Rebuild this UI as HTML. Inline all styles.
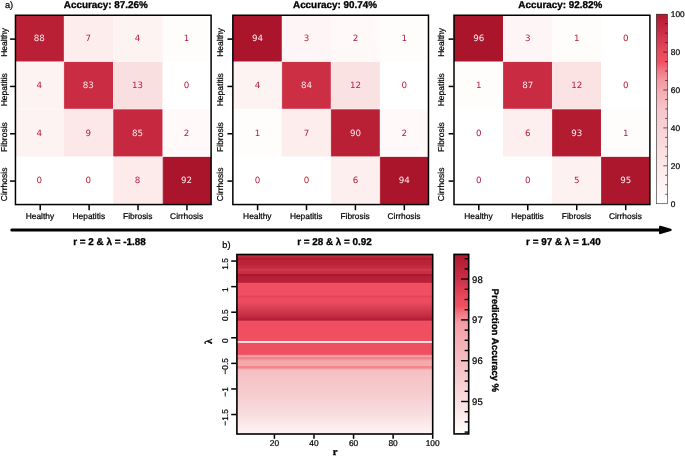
<!DOCTYPE html>
<html lang="en"><head><meta charset="utf-8"><title>Figure</title>
<style>html,body{margin:0;padding:0;background:#fff}svg{display:block;will-change:transform}text{text-rendering:geometricPrecision;stroke:#000;stroke-width:.22px}text.n{stroke:none}text.b{stroke-width:.3px}</style></head>
<body>
<svg width="685" height="458" viewBox="0 0 685 458">
<rect width="685" height="458" fill="#fff"/>
<defs><linearGradient id="hm" gradientUnits="userSpaceOnUse" x1="0" y1="254.5" x2="0" y2="434"><stop offset="0.0000" stop-color="#c42840"/><stop offset="0.0156" stop-color="#c42840"/><stop offset="0.0184" stop-color="#b01a32"/><stop offset="0.0284" stop-color="#b01a32"/><stop offset="0.0318" stop-color="#bb2238"/><stop offset="0.0585" stop-color="#bb2238"/><stop offset="0.0618" stop-color="#c42a40"/><stop offset="0.0808" stop-color="#c62c42"/><stop offset="0.0836" stop-color="#d33b52"/><stop offset="0.0875" stop-color="#d33b52"/><stop offset="0.0903" stop-color="#c83045"/><stop offset="0.1058" stop-color="#c62e44"/><stop offset="0.1086" stop-color="#aa1830"/><stop offset="0.1209" stop-color="#ac1a32"/><stop offset="0.1242" stop-color="#b82038"/><stop offset="0.1554" stop-color="#b82038"/><stop offset="0.1582" stop-color="#ef4f60"/><stop offset="0.2267" stop-color="#ef4f60"/><stop offset="0.2312" stop-color="#e24659"/><stop offset="0.2379" stop-color="#e24659"/><stop offset="0.2435" stop-color="#ee4e5f"/><stop offset="0.2674" stop-color="#ec4c5e"/><stop offset="0.2802" stop-color="#e24659"/><stop offset="0.2981" stop-color="#d84054"/><stop offset="0.3148" stop-color="#cf384d"/><stop offset="0.3370" stop-color="#c52e44"/><stop offset="0.3510" stop-color="#bd2840"/><stop offset="0.3571" stop-color="#b52038"/><stop offset="0.3660" stop-color="#b52038"/><stop offset="0.3710" stop-color="#ef4f60"/><stop offset="0.4802" stop-color="#ef4f60"/><stop offset="0.4836" stop-color="#fbe6e8"/><stop offset="0.4897" stop-color="#fdf0f1"/><stop offset="0.4936" stop-color="#ef4f60"/><stop offset="0.5549" stop-color="#ef4f60"/><stop offset="0.5616" stop-color="#f37e88"/><stop offset="0.5643" stop-color="#f5a5a6"/><stop offset="0.5699" stop-color="#f5a5a6"/><stop offset="0.5727" stop-color="#f28089"/><stop offset="0.5788" stop-color="#f28089"/><stop offset="0.5905" stop-color="#f2a4a5"/><stop offset="0.5961" stop-color="#f2aaaa"/><stop offset="0.6189" stop-color="#f2aaaa"/><stop offset="0.6228" stop-color="#f4858c"/><stop offset="0.6306" stop-color="#f4858c"/><stop offset="0.6379" stop-color="#f4a8ac"/><stop offset="0.6462" stop-color="#f5c0c2"/><stop offset="0.7827" stop-color="#f6cdcf"/><stop offset="0.8942" stop-color="#f9dedf"/><stop offset="1.0000" stop-color="#fef5f5"/></linearGradient><linearGradient id="cbb" gradientUnits="userSpaceOnUse" x1="0" y1="254.4" x2="0" y2="433.9"><stop offset="0.0000" stop-color="#b0182e"/><stop offset="0.1370" stop-color="#c93048"/><stop offset="0.2373" stop-color="#e84a5c"/><stop offset="0.2875" stop-color="#f05062"/><stop offset="0.3320" stop-color="#f27a88"/><stop offset="0.3877" stop-color="#f39ea6"/><stop offset="0.4880" stop-color="#f4b0b5"/><stop offset="0.6997" stop-color="#f7ccd0"/><stop offset="0.8669" stop-color="#fbe6e8"/><stop offset="1.0000" stop-color="#ffffff"/></linearGradient><linearGradient id="cba" gradientUnits="userSpaceOnUse" x1="0" y1="14.2" x2="0" y2="203.7"><stop offset="0.0000" stop-color="#b0182e"/><stop offset="0.0992" stop-color="#cc3048"/><stop offset="0.1995" stop-color="#e84a5c"/><stop offset="0.2522" stop-color="#f05062"/><stop offset="0.2997" stop-color="#f27888"/><stop offset="0.3525" stop-color="#f39aa2"/><stop offset="0.4000" stop-color="#f4aab0"/><stop offset="0.5003" stop-color="#f6c6ca"/><stop offset="0.6005" stop-color="#f8d2d5"/><stop offset="0.8011" stop-color="#fce8e9"/><stop offset="1.0000" stop-color="#ffffff"/></linearGradient></defs>
<rect x="15.45" y="15.25" width="48.48" height="46.6" fill="#b92035"/>
<rect x="63.93" y="15.25" width="49.22" height="46.6" fill="#fdeded"/>
<rect x="113.15" y="15.25" width="49.55" height="46.6" fill="#fef3f3"/>
<rect x="162.7" y="15.25" width="48.4" height="46.6" fill="#fffcfc"/>
<rect x="15.45" y="61.85" width="48.48" height="47.35" fill="#fef3f3"/>
<rect x="63.93" y="61.85" width="49.22" height="47.35" fill="#ca2c43"/>
<rect x="113.15" y="61.85" width="49.55" height="47.35" fill="#fadfe0"/>
<rect x="162.7" y="61.85" width="48.4" height="47.35" fill="#ffffff"/>
<rect x="15.45" y="109.2" width="48.48" height="47.6" fill="#fef3f3"/>
<rect x="63.93" y="109.2" width="49.22" height="47.6" fill="#fce8e8"/>
<rect x="113.15" y="109.2" width="49.55" height="47.6" fill="#c5283f"/>
<rect x="162.7" y="109.2" width="48.4" height="47.6" fill="#fff9f9"/>
<rect x="15.45" y="156.8" width="48.48" height="47.75" fill="#ffffff"/>
<rect x="63.93" y="156.8" width="49.22" height="47.75" fill="#ffffff"/>
<rect x="113.15" y="156.8" width="49.55" height="47.75" fill="#fdebeb"/>
<rect x="162.7" y="156.8" width="48.4" height="47.75" fill="#ab152b"/>
<line x1="15.45" y1="61.55" x2="211.1" y2="61.55" stroke="#fff" stroke-opacity="0.65" stroke-width="0.55"/>
<line x1="64.23" y1="15.25" x2="64.23" y2="204.55" stroke="#fff" stroke-opacity="0.3" stroke-width="0.5"/>
<line x1="15.45" y1="108.9" x2="211.1" y2="108.9" stroke="#fff" stroke-opacity="0.65" stroke-width="0.55"/>
<line x1="113.45" y1="15.25" x2="113.45" y2="204.55" stroke="#fff" stroke-opacity="0.3" stroke-width="0.5"/>
<line x1="15.45" y1="156.5" x2="211.1" y2="156.5" stroke="#fff" stroke-opacity="0.65" stroke-width="0.55"/>
<line x1="163" y1="15.25" x2="163" y2="204.55" stroke="#fff" stroke-opacity="0.3" stroke-width="0.5"/>
<text x="39.39" y="41.15" font-family='"DejaVu Sans", "Liberation Sans", sans-serif' font-size="8.7" fill="#fbe9eb" class="n" text-anchor="middle">88</text>
<text x="88.24" y="41.15" font-family='"DejaVu Sans", "Liberation Sans", sans-serif' font-size="8.7" fill="#b5203a" class="n" text-anchor="middle">7</text>
<text x="137.62" y="41.15" font-family='"DejaVu Sans", "Liberation Sans", sans-serif' font-size="8.7" fill="#b5203a" class="n" text-anchor="middle">4</text>
<text x="186.6" y="41.15" font-family='"DejaVu Sans", "Liberation Sans", sans-serif' font-size="8.7" fill="#b5203a" class="n" text-anchor="middle">1</text>
<text x="39.39" y="88.12" font-family='"DejaVu Sans", "Liberation Sans", sans-serif' font-size="8.7" fill="#b5203a" class="n" text-anchor="middle">4</text>
<text x="88.24" y="88.12" font-family='"DejaVu Sans", "Liberation Sans", sans-serif' font-size="8.7" fill="#fbe9eb" class="n" text-anchor="middle">83</text>
<text x="137.62" y="88.12" font-family='"DejaVu Sans", "Liberation Sans", sans-serif' font-size="8.7" fill="#b5203a" class="n" text-anchor="middle">13</text>
<text x="186.6" y="88.12" font-family='"DejaVu Sans", "Liberation Sans", sans-serif' font-size="8.7" fill="#b5203a" class="n" text-anchor="middle">0</text>
<text x="39.39" y="135.6" font-family='"DejaVu Sans", "Liberation Sans", sans-serif' font-size="8.7" fill="#b5203a" class="n" text-anchor="middle">4</text>
<text x="88.24" y="135.6" font-family='"DejaVu Sans", "Liberation Sans", sans-serif' font-size="8.7" fill="#b5203a" class="n" text-anchor="middle">9</text>
<text x="137.62" y="135.6" font-family='"DejaVu Sans", "Liberation Sans", sans-serif' font-size="8.7" fill="#fbe9eb" class="n" text-anchor="middle">85</text>
<text x="186.6" y="135.6" font-family='"DejaVu Sans", "Liberation Sans", sans-serif' font-size="8.7" fill="#b5203a" class="n" text-anchor="middle">2</text>
<text x="39.39" y="183.28" font-family='"DejaVu Sans", "Liberation Sans", sans-serif' font-size="8.7" fill="#b5203a" class="n" text-anchor="middle">0</text>
<text x="88.24" y="183.28" font-family='"DejaVu Sans", "Liberation Sans", sans-serif' font-size="8.7" fill="#b5203a" class="n" text-anchor="middle">0</text>
<text x="137.62" y="183.28" font-family='"DejaVu Sans", "Liberation Sans", sans-serif' font-size="8.7" fill="#b5203a" class="n" text-anchor="middle">8</text>
<text x="186.6" y="183.28" font-family='"DejaVu Sans", "Liberation Sans", sans-serif' font-size="8.7" fill="#fbe9eb" class="n" text-anchor="middle">92</text>
<rect x="15.45" y="15.25" width="195.65" height="189.3" fill="none" stroke="#000" stroke-width="1.5"/>
<line x1="10.05" y1="39.11" x2="14.95" y2="39.11" stroke="#000" stroke-width="1.5"/>
<text transform="translate(7.15 42.41) rotate(-90)" font-family='"Liberation Sans", Arial, Helvetica, sans-serif' font-size="8.5" text-anchor="middle">Healthy</text>
<line x1="40.21" y1="205.05" x2="40.21" y2="210.25" stroke="#000" stroke-width="1.5"/>
<text x="39.91" y="219.0" font-family='"Liberation Sans", Arial, Helvetica, sans-serif' font-size="8.4" text-anchor="middle">Healthy</text>
<line x1="10.05" y1="86.44" x2="14.95" y2="86.44" stroke="#000" stroke-width="1.5"/>
<text transform="translate(7.15 89.74) rotate(-90)" font-family='"Liberation Sans", Arial, Helvetica, sans-serif' font-size="8.5" text-anchor="middle">Hepatitis</text>
<line x1="89.12" y1="205.05" x2="89.12" y2="210.25" stroke="#000" stroke-width="1.5"/>
<text x="88.82" y="219.0" font-family='"Liberation Sans", Arial, Helvetica, sans-serif' font-size="8.4" text-anchor="middle">Hepatitis</text>
<line x1="10.05" y1="133.76" x2="14.95" y2="133.76" stroke="#000" stroke-width="1.5"/>
<text transform="translate(7.15 137.06) rotate(-90)" font-family='"Liberation Sans", Arial, Helvetica, sans-serif' font-size="8.5" text-anchor="middle">Fibrosis</text>
<line x1="138.03" y1="205.05" x2="138.03" y2="210.25" stroke="#000" stroke-width="1.5"/>
<text x="137.73" y="219.0" font-family='"Liberation Sans", Arial, Helvetica, sans-serif' font-size="8.4" text-anchor="middle">Fibrosis</text>
<line x1="10.05" y1="181.09" x2="14.95" y2="181.09" stroke="#000" stroke-width="1.5"/>
<text transform="translate(7.15 184.39) rotate(-90)" font-family='"Liberation Sans", Arial, Helvetica, sans-serif' font-size="8.5" text-anchor="middle">Cirrhosis</text>
<line x1="186.94" y1="205.05" x2="186.94" y2="210.25" stroke="#000" stroke-width="1.5"/>
<text x="186.64" y="219.0" font-family='"Liberation Sans", Arial, Helvetica, sans-serif' font-size="8.4" text-anchor="middle">Cirrhosis</text>
<text x="105.8" y="8.3" font-family='"Liberation Sans", Arial, Helvetica, sans-serif' font-size="9.9" font-weight="bold" class="b" text-anchor="middle">Accuracy: 87.26%</text>
<text x="109.45" y="244.8" font-family='"Liberation Sans", Arial, Helvetica, sans-serif' font-size="9.9" font-weight="bold" class="b" text-anchor="middle">r = 2 &amp; λ = -1.88</text>
<rect x="232.85" y="15.25" width="49.05" height="46.6" fill="#ab152b"/>
<rect x="281.9" y="15.25" width="49" height="46.6" fill="#fef6f6"/>
<rect x="330.9" y="15.25" width="49" height="46.6" fill="#fff9f9"/>
<rect x="379.9" y="15.25" width="48.57" height="46.6" fill="#fffcfc"/>
<rect x="232.85" y="61.85" width="49.05" height="47.35" fill="#fef3f3"/>
<rect x="281.9" y="61.85" width="49" height="47.35" fill="#cc2e44"/>
<rect x="330.9" y="61.85" width="49" height="47.35" fill="#fbe2e2"/>
<rect x="379.9" y="61.85" width="48.57" height="47.35" fill="#ffffff"/>
<rect x="232.85" y="109.2" width="49.05" height="47.6" fill="#fffcfc"/>
<rect x="281.9" y="109.2" width="49" height="47.6" fill="#fdeded"/>
<rect x="330.9" y="109.2" width="49" height="47.6" fill="#b92035"/>
<rect x="379.9" y="109.2" width="48.57" height="47.6" fill="#fff9f9"/>
<rect x="232.85" y="156.8" width="49.05" height="47.75" fill="#ffffff"/>
<rect x="281.9" y="156.8" width="49" height="47.75" fill="#ffffff"/>
<rect x="330.9" y="156.8" width="49" height="47.75" fill="#fdefef"/>
<rect x="379.9" y="156.8" width="48.57" height="47.75" fill="#ab152b"/>
<line x1="232.85" y1="61.55" x2="428.47" y2="61.55" stroke="#fff" stroke-opacity="0.65" stroke-width="0.55"/>
<line x1="282.2" y1="15.25" x2="282.2" y2="204.55" stroke="#fff" stroke-opacity="0.3" stroke-width="0.5"/>
<line x1="232.85" y1="108.9" x2="428.47" y2="108.9" stroke="#fff" stroke-opacity="0.65" stroke-width="0.55"/>
<line x1="331.2" y1="15.25" x2="331.2" y2="204.55" stroke="#fff" stroke-opacity="0.3" stroke-width="0.5"/>
<line x1="232.85" y1="156.5" x2="428.47" y2="156.5" stroke="#fff" stroke-opacity="0.65" stroke-width="0.55"/>
<line x1="380.2" y1="15.25" x2="380.2" y2="204.55" stroke="#fff" stroke-opacity="0.3" stroke-width="0.5"/>
<text x="257.48" y="41.15" font-family='"DejaVu Sans", "Liberation Sans", sans-serif' font-size="8.7" fill="#fbe9eb" class="n" text-anchor="middle">94</text>
<text x="306.5" y="41.15" font-family='"DejaVu Sans", "Liberation Sans", sans-serif' font-size="8.7" fill="#b5203a" class="n" text-anchor="middle">3</text>
<text x="355.5" y="41.15" font-family='"DejaVu Sans", "Liberation Sans", sans-serif' font-size="8.7" fill="#b5203a" class="n" text-anchor="middle">2</text>
<text x="404.29" y="41.15" font-family='"DejaVu Sans", "Liberation Sans", sans-serif' font-size="8.7" fill="#b5203a" class="n" text-anchor="middle">1</text>
<text x="257.48" y="88.12" font-family='"DejaVu Sans", "Liberation Sans", sans-serif' font-size="8.7" fill="#b5203a" class="n" text-anchor="middle">4</text>
<text x="306.5" y="88.12" font-family='"DejaVu Sans", "Liberation Sans", sans-serif' font-size="8.7" fill="#fbe9eb" class="n" text-anchor="middle">84</text>
<text x="355.5" y="88.12" font-family='"DejaVu Sans", "Liberation Sans", sans-serif' font-size="8.7" fill="#b5203a" class="n" text-anchor="middle">12</text>
<text x="404.29" y="88.12" font-family='"DejaVu Sans", "Liberation Sans", sans-serif' font-size="8.7" fill="#b5203a" class="n" text-anchor="middle">0</text>
<text x="257.48" y="135.6" font-family='"DejaVu Sans", "Liberation Sans", sans-serif' font-size="8.7" fill="#b5203a" class="n" text-anchor="middle">1</text>
<text x="306.5" y="135.6" font-family='"DejaVu Sans", "Liberation Sans", sans-serif' font-size="8.7" fill="#b5203a" class="n" text-anchor="middle">7</text>
<text x="355.5" y="135.6" font-family='"DejaVu Sans", "Liberation Sans", sans-serif' font-size="8.7" fill="#fbe9eb" class="n" text-anchor="middle">90</text>
<text x="404.29" y="135.6" font-family='"DejaVu Sans", "Liberation Sans", sans-serif' font-size="8.7" fill="#b5203a" class="n" text-anchor="middle">2</text>
<text x="257.48" y="183.28" font-family='"DejaVu Sans", "Liberation Sans", sans-serif' font-size="8.7" fill="#b5203a" class="n" text-anchor="middle">0</text>
<text x="306.5" y="183.28" font-family='"DejaVu Sans", "Liberation Sans", sans-serif' font-size="8.7" fill="#b5203a" class="n" text-anchor="middle">0</text>
<text x="355.5" y="183.28" font-family='"DejaVu Sans", "Liberation Sans", sans-serif' font-size="8.7" fill="#b5203a" class="n" text-anchor="middle">6</text>
<text x="404.29" y="183.28" font-family='"DejaVu Sans", "Liberation Sans", sans-serif' font-size="8.7" fill="#fbe9eb" class="n" text-anchor="middle">94</text>
<rect x="232.85" y="15.25" width="195.62" height="189.3" fill="none" stroke="#000" stroke-width="1.5"/>
<line x1="227.45" y1="39.11" x2="232.35" y2="39.11" stroke="#000" stroke-width="1.5"/>
<text transform="translate(223.05 42.41) rotate(-90)" font-family='"Liberation Sans", Arial, Helvetica, sans-serif' font-size="8.5" text-anchor="middle">Healthy</text>
<line x1="257.6" y1="205.05" x2="257.6" y2="210.25" stroke="#000" stroke-width="1.5"/>
<text x="257.3" y="219.0" font-family='"Liberation Sans", Arial, Helvetica, sans-serif' font-size="8.4" text-anchor="middle">Healthy</text>
<line x1="227.45" y1="86.44" x2="232.35" y2="86.44" stroke="#000" stroke-width="1.5"/>
<text transform="translate(223.05 89.74) rotate(-90)" font-family='"Liberation Sans", Arial, Helvetica, sans-serif' font-size="8.5" text-anchor="middle">Hepatitis</text>
<line x1="306.51" y1="205.05" x2="306.51" y2="210.25" stroke="#000" stroke-width="1.5"/>
<text x="306.21" y="219.0" font-family='"Liberation Sans", Arial, Helvetica, sans-serif' font-size="8.4" text-anchor="middle">Hepatitis</text>
<line x1="227.45" y1="133.76" x2="232.35" y2="133.76" stroke="#000" stroke-width="1.5"/>
<text transform="translate(223.05 137.06) rotate(-90)" font-family='"Liberation Sans", Arial, Helvetica, sans-serif' font-size="8.5" text-anchor="middle">Fibrosis</text>
<line x1="355.41" y1="205.05" x2="355.41" y2="210.25" stroke="#000" stroke-width="1.5"/>
<text x="355.11" y="219.0" font-family='"Liberation Sans", Arial, Helvetica, sans-serif' font-size="8.4" text-anchor="middle">Fibrosis</text>
<line x1="227.45" y1="181.09" x2="232.35" y2="181.09" stroke="#000" stroke-width="1.5"/>
<text transform="translate(223.05 184.39) rotate(-90)" font-family='"Liberation Sans", Arial, Helvetica, sans-serif' font-size="8.5" text-anchor="middle">Cirrhosis</text>
<line x1="404.32" y1="205.05" x2="404.32" y2="210.25" stroke="#000" stroke-width="1.5"/>
<text x="404.02" y="219.0" font-family='"Liberation Sans", Arial, Helvetica, sans-serif' font-size="8.4" text-anchor="middle">Cirrhosis</text>
<text x="335" y="8.3" font-family='"Liberation Sans", Arial, Helvetica, sans-serif' font-size="9.9" font-weight="bold" class="b" text-anchor="middle">Accuracy: 90.74%</text>
<text x="334.5" y="244.8" font-family='"Liberation Sans", Arial, Helvetica, sans-serif' font-size="9.9" font-weight="bold" class="b" text-anchor="middle">r = 28 &amp; λ = 0.92</text>
<rect x="454" y="15.25" width="49" height="46.6" fill="#ab152b"/>
<rect x="503" y="15.25" width="49" height="46.6" fill="#fef6f6"/>
<rect x="552" y="15.25" width="49" height="46.6" fill="#fffcfc"/>
<rect x="601" y="15.25" width="48.9" height="46.6" fill="#ffffff"/>
<rect x="454" y="61.85" width="49" height="47.35" fill="#fffcfc"/>
<rect x="503" y="61.85" width="49" height="47.35" fill="#c92c42"/>
<rect x="552" y="61.85" width="49" height="47.35" fill="#fbe2e3"/>
<rect x="601" y="61.85" width="48.9" height="47.35" fill="#ffffff"/>
<rect x="454" y="109.2" width="49" height="47.6" fill="#ffffff"/>
<rect x="503" y="109.2" width="49" height="47.6" fill="#fdefef"/>
<rect x="552" y="109.2" width="49" height="47.6" fill="#b21b30"/>
<rect x="601" y="109.2" width="48.9" height="47.6" fill="#fffcfc"/>
<rect x="454" y="156.8" width="49" height="47.75" fill="#ffffff"/>
<rect x="503" y="156.8" width="49" height="47.75" fill="#ffffff"/>
<rect x="552" y="156.8" width="49" height="47.75" fill="#fef1f1"/>
<rect x="601" y="156.8" width="48.9" height="47.75" fill="#ad172d"/>
<line x1="454" y1="61.55" x2="649.9" y2="61.55" stroke="#fff" stroke-opacity="0.65" stroke-width="0.55"/>
<line x1="503.3" y1="15.25" x2="503.3" y2="204.55" stroke="#fff" stroke-opacity="0.3" stroke-width="0.5"/>
<line x1="454" y1="108.9" x2="649.9" y2="108.9" stroke="#fff" stroke-opacity="0.65" stroke-width="0.55"/>
<line x1="552.3" y1="15.25" x2="552.3" y2="204.55" stroke="#fff" stroke-opacity="0.3" stroke-width="0.5"/>
<line x1="454" y1="156.5" x2="649.9" y2="156.5" stroke="#fff" stroke-opacity="0.65" stroke-width="0.55"/>
<line x1="601.3" y1="15.25" x2="601.3" y2="204.55" stroke="#fff" stroke-opacity="0.3" stroke-width="0.5"/>
<text x="478.8" y="41.15" font-family='"DejaVu Sans", "Liberation Sans", sans-serif' font-size="8.7" fill="#fbe9eb" class="n" text-anchor="middle">96</text>
<text x="527.8" y="41.15" font-family='"DejaVu Sans", "Liberation Sans", sans-serif' font-size="8.7" fill="#b5203a" class="n" text-anchor="middle">3</text>
<text x="576.8" y="41.15" font-family='"DejaVu Sans", "Liberation Sans", sans-serif' font-size="8.7" fill="#b5203a" class="n" text-anchor="middle">1</text>
<text x="625.75" y="41.15" font-family='"DejaVu Sans", "Liberation Sans", sans-serif' font-size="8.7" fill="#b5203a" class="n" text-anchor="middle">0</text>
<text x="478.8" y="88.12" font-family='"DejaVu Sans", "Liberation Sans", sans-serif' font-size="8.7" fill="#b5203a" class="n" text-anchor="middle">1</text>
<text x="527.8" y="88.12" font-family='"DejaVu Sans", "Liberation Sans", sans-serif' font-size="8.7" fill="#fbe9eb" class="n" text-anchor="middle">87</text>
<text x="576.8" y="88.12" font-family='"DejaVu Sans", "Liberation Sans", sans-serif' font-size="8.7" fill="#b5203a" class="n" text-anchor="middle">12</text>
<text x="625.75" y="88.12" font-family='"DejaVu Sans", "Liberation Sans", sans-serif' font-size="8.7" fill="#b5203a" class="n" text-anchor="middle">0</text>
<text x="478.8" y="135.6" font-family='"DejaVu Sans", "Liberation Sans", sans-serif' font-size="8.7" fill="#b5203a" class="n" text-anchor="middle">0</text>
<text x="527.8" y="135.6" font-family='"DejaVu Sans", "Liberation Sans", sans-serif' font-size="8.7" fill="#b5203a" class="n" text-anchor="middle">6</text>
<text x="576.8" y="135.6" font-family='"DejaVu Sans", "Liberation Sans", sans-serif' font-size="8.7" fill="#fbe9eb" class="n" text-anchor="middle">93</text>
<text x="625.75" y="135.6" font-family='"DejaVu Sans", "Liberation Sans", sans-serif' font-size="8.7" fill="#b5203a" class="n" text-anchor="middle">1</text>
<text x="478.8" y="183.28" font-family='"DejaVu Sans", "Liberation Sans", sans-serif' font-size="8.7" fill="#b5203a" class="n" text-anchor="middle">0</text>
<text x="527.8" y="183.28" font-family='"DejaVu Sans", "Liberation Sans", sans-serif' font-size="8.7" fill="#b5203a" class="n" text-anchor="middle">0</text>
<text x="576.8" y="183.28" font-family='"DejaVu Sans", "Liberation Sans", sans-serif' font-size="8.7" fill="#b5203a" class="n" text-anchor="middle">5</text>
<text x="625.75" y="183.28" font-family='"DejaVu Sans", "Liberation Sans", sans-serif' font-size="8.7" fill="#fbe9eb" class="n" text-anchor="middle">95</text>
<rect x="454" y="15.25" width="195.9" height="189.3" fill="none" stroke="#000" stroke-width="1.5"/>
<line x1="448.6" y1="39.11" x2="453.5" y2="39.11" stroke="#000" stroke-width="1.5"/>
<text transform="translate(443.9 42.41) rotate(-90)" font-family='"Liberation Sans", Arial, Helvetica, sans-serif' font-size="8.5" text-anchor="middle">Healthy</text>
<line x1="478.79" y1="205.05" x2="478.79" y2="210.25" stroke="#000" stroke-width="1.5"/>
<text x="478.49" y="219.0" font-family='"Liberation Sans", Arial, Helvetica, sans-serif' font-size="8.4" text-anchor="middle">Healthy</text>
<line x1="448.6" y1="86.44" x2="453.5" y2="86.44" stroke="#000" stroke-width="1.5"/>
<text transform="translate(443.9 89.74) rotate(-90)" font-family='"Liberation Sans", Arial, Helvetica, sans-serif' font-size="8.5" text-anchor="middle">Hepatitis</text>
<line x1="527.76" y1="205.05" x2="527.76" y2="210.25" stroke="#000" stroke-width="1.5"/>
<text x="527.46" y="219.0" font-family='"Liberation Sans", Arial, Helvetica, sans-serif' font-size="8.4" text-anchor="middle">Hepatitis</text>
<line x1="448.6" y1="133.76" x2="453.5" y2="133.76" stroke="#000" stroke-width="1.5"/>
<text transform="translate(443.9 137.06) rotate(-90)" font-family='"Liberation Sans", Arial, Helvetica, sans-serif' font-size="8.5" text-anchor="middle">Fibrosis</text>
<line x1="576.74" y1="205.05" x2="576.74" y2="210.25" stroke="#000" stroke-width="1.5"/>
<text x="576.44" y="219.0" font-family='"Liberation Sans", Arial, Helvetica, sans-serif' font-size="8.4" text-anchor="middle">Fibrosis</text>
<line x1="448.6" y1="181.09" x2="453.5" y2="181.09" stroke="#000" stroke-width="1.5"/>
<text transform="translate(443.9 184.39) rotate(-90)" font-family='"Liberation Sans", Arial, Helvetica, sans-serif' font-size="8.5" text-anchor="middle">Cirrhosis</text>
<line x1="625.71" y1="205.05" x2="625.71" y2="210.25" stroke="#000" stroke-width="1.5"/>
<text x="625.41" y="219.0" font-family='"Liberation Sans", Arial, Helvetica, sans-serif' font-size="8.4" text-anchor="middle">Cirrhosis</text>
<text x="560.3" y="8.3" font-family='"Liberation Sans", Arial, Helvetica, sans-serif' font-size="9.9" font-weight="bold" class="b" text-anchor="middle">Accuracy: 92.82%</text>
<text x="563.4" y="244.8" font-family='"Liberation Sans", Arial, Helvetica, sans-serif' font-size="9.9" font-weight="bold" class="b" text-anchor="middle">r = 97 &amp; λ = 1.40</text>
<text x="5" y="8.3" font-family='"Liberation Sans", Arial, Helvetica, sans-serif' font-size="9.2">a)</text>
<text x="222.3" y="247.7" font-family='"Liberation Sans", Arial, Helvetica, sans-serif' font-size="9.2">b)</text>
<rect x="656.4" y="14.2" width="11.05" height="189.5" fill="url(#cba)" stroke="#000" stroke-opacity="0.78" stroke-width="0.65"/>
<text x="670.8" y="206.8" font-family='"Liberation Sans", Arial, Helvetica, sans-serif' font-size="8.3">0</text>
<line x1="665.2" y1="194.22" x2="667.3" y2="194.22" stroke="#000" stroke-opacity="0.85" stroke-width="0.7"/>
<line x1="665.2" y1="184.75" x2="667.3" y2="184.75" stroke="#000" stroke-opacity="0.85" stroke-width="0.7"/>
<line x1="665.2" y1="175.27" x2="667.3" y2="175.27" stroke="#000" stroke-opacity="0.85" stroke-width="0.7"/>
<line x1="663.3" y1="165.8" x2="667.3" y2="165.8" stroke="#000" stroke-opacity="0.85" stroke-width="0.7"/>
<text x="670.8" y="168.9" font-family='"Liberation Sans", Arial, Helvetica, sans-serif' font-size="8.3">20</text>
<line x1="665.2" y1="156.32" x2="667.3" y2="156.32" stroke="#000" stroke-opacity="0.85" stroke-width="0.7"/>
<line x1="665.2" y1="146.85" x2="667.3" y2="146.85" stroke="#000" stroke-opacity="0.85" stroke-width="0.7"/>
<line x1="665.2" y1="137.38" x2="667.3" y2="137.38" stroke="#000" stroke-opacity="0.85" stroke-width="0.7"/>
<line x1="663.3" y1="127.9" x2="667.3" y2="127.9" stroke="#000" stroke-opacity="0.85" stroke-width="0.7"/>
<text x="670.8" y="131" font-family='"Liberation Sans", Arial, Helvetica, sans-serif' font-size="8.3">40</text>
<line x1="665.2" y1="118.42" x2="667.3" y2="118.42" stroke="#000" stroke-opacity="0.85" stroke-width="0.7"/>
<line x1="665.2" y1="108.95" x2="667.3" y2="108.95" stroke="#000" stroke-opacity="0.85" stroke-width="0.7"/>
<line x1="665.2" y1="99.47" x2="667.3" y2="99.47" stroke="#000" stroke-opacity="0.85" stroke-width="0.7"/>
<line x1="663.3" y1="90" x2="667.3" y2="90" stroke="#000" stroke-opacity="0.85" stroke-width="0.7"/>
<text x="670.8" y="93.1" font-family='"Liberation Sans", Arial, Helvetica, sans-serif' font-size="8.3">60</text>
<line x1="665.2" y1="80.52" x2="667.3" y2="80.52" stroke="#000" stroke-opacity="0.85" stroke-width="0.7"/>
<line x1="665.2" y1="71.05" x2="667.3" y2="71.05" stroke="#000" stroke-opacity="0.85" stroke-width="0.7"/>
<line x1="665.2" y1="61.57" x2="667.3" y2="61.57" stroke="#000" stroke-opacity="0.85" stroke-width="0.7"/>
<line x1="663.3" y1="52.1" x2="667.3" y2="52.1" stroke="#000" stroke-opacity="0.85" stroke-width="0.7"/>
<text x="670.8" y="55.2" font-family='"Liberation Sans", Arial, Helvetica, sans-serif' font-size="8.3">80</text>
<line x1="665.2" y1="42.62" x2="667.3" y2="42.62" stroke="#000" stroke-opacity="0.85" stroke-width="0.7"/>
<line x1="665.2" y1="33.15" x2="667.3" y2="33.15" stroke="#000" stroke-opacity="0.85" stroke-width="0.7"/>
<line x1="665.2" y1="23.67" x2="667.3" y2="23.67" stroke="#000" stroke-opacity="0.85" stroke-width="0.7"/>
<text x="670.8" y="17.3" font-family='"Liberation Sans", Arial, Helvetica, sans-serif' font-size="8.3">100</text>
<line x1="11.8" y1="229.9" x2="661" y2="229.9" stroke="#000" stroke-width="3" stroke-linecap="round"/>
<path d="M660.2 227.0 L670.5 229.95 L660.2 232.9 Z" fill="#000" stroke="#000" stroke-width="2.4" stroke-linejoin="round"/>
<rect x="236.9" y="254.5" width="195.8" height="179.5" fill="url(#hm)"/>
<rect x="236.9" y="254.5" width="195.8" height="179.5" fill="none" stroke="#000" stroke-width="1.6"/>
<line x1="231.2" y1="261.05" x2="236.2" y2="261.05" stroke="#000" stroke-width="1.5"/>
<text transform="translate(228.1 264) rotate(-90)" font-family='"Liberation Sans", Arial, Helvetica, sans-serif' font-size="8.4" text-anchor="middle">1.5</text>
<line x1="231.2" y1="286.63" x2="236.2" y2="286.63" stroke="#000" stroke-width="1.5"/>
<text transform="translate(228.1 289.58) rotate(-90)" font-family='"Liberation Sans", Arial, Helvetica, sans-serif' font-size="8.4" text-anchor="middle">1</text>
<line x1="231.2" y1="312.21" x2="236.2" y2="312.21" stroke="#000" stroke-width="1.5"/>
<text transform="translate(228.1 315.16) rotate(-90)" font-family='"Liberation Sans", Arial, Helvetica, sans-serif' font-size="8.4" text-anchor="middle">0.5</text>
<line x1="231.2" y1="337.79" x2="236.2" y2="337.79" stroke="#000" stroke-width="1.5"/>
<text transform="translate(228.1 340.74) rotate(-90)" font-family='"Liberation Sans", Arial, Helvetica, sans-serif' font-size="8.4" text-anchor="middle">0</text>
<line x1="231.2" y1="363.37" x2="236.2" y2="363.37" stroke="#000" stroke-width="1.5"/>
<text transform="translate(228.1 366.32) rotate(-90)" font-family='"Liberation Sans", Arial, Helvetica, sans-serif' font-size="8.4" text-anchor="middle">−0.5</text>
<line x1="231.2" y1="388.95" x2="236.2" y2="388.95" stroke="#000" stroke-width="1.5"/>
<text transform="translate(228.1 391.9) rotate(-90)" font-family='"Liberation Sans", Arial, Helvetica, sans-serif' font-size="8.4" text-anchor="middle">−1</text>
<line x1="231.2" y1="414.53" x2="236.2" y2="414.53" stroke="#000" stroke-width="1.5"/>
<text transform="translate(228.1 417.48) rotate(-90)" font-family='"Liberation Sans", Arial, Helvetica, sans-serif' font-size="8.4" text-anchor="middle">−1.5</text>
<line x1="274.4" y1="434.6" x2="274.4" y2="438.8" stroke="#000" stroke-width="1.5"/>
<text x="274.4" y="446.1" font-family='"Liberation Sans", Arial, Helvetica, sans-serif' font-size="8.4" text-anchor="middle">20</text>
<line x1="313.97" y1="434.6" x2="313.97" y2="438.8" stroke="#000" stroke-width="1.5"/>
<text x="313.97" y="446.1" font-family='"Liberation Sans", Arial, Helvetica, sans-serif' font-size="8.4" text-anchor="middle">40</text>
<line x1="353.55" y1="434.6" x2="353.55" y2="438.8" stroke="#000" stroke-width="1.5"/>
<text x="353.55" y="446.1" font-family='"Liberation Sans", Arial, Helvetica, sans-serif' font-size="8.4" text-anchor="middle">60</text>
<line x1="393.12" y1="434.6" x2="393.12" y2="438.8" stroke="#000" stroke-width="1.5"/>
<text x="393.12" y="446.1" font-family='"Liberation Sans", Arial, Helvetica, sans-serif' font-size="8.4" text-anchor="middle">80</text>
<line x1="432.7" y1="434.6" x2="432.7" y2="438.8" stroke="#000" stroke-width="1.5"/>
<text x="432.7" y="446.1" font-family='"Liberation Sans", Arial, Helvetica, sans-serif' font-size="8.4" text-anchor="middle">100</text>
<text transform="translate(211.6 341.4) rotate(-90)" font-family='"Liberation Serif", "Times New Roman", serif' font-size="10.5" font-weight="bold" class="b" text-anchor="middle">λ</text>
<text x="335.2" y="454.6" font-family='"Liberation Serif", "Times New Roman", serif' font-size="10.5" font-weight="bold" class="b" text-anchor="middle">r</text>
<rect x="454.05" y="254.4" width="14.65" height="179.5" fill="url(#cbb)" stroke="#000" stroke-width="1.6"/>
<line x1="464.6" y1="258.7" x2="468.7" y2="258.7" stroke="#000" stroke-width="1.4"/>
<line x1="464.6" y1="268.9" x2="468.7" y2="268.9" stroke="#000" stroke-width="1.4"/>
<line x1="461.1" y1="279.1" x2="468.7" y2="279.1" stroke="#000" stroke-width="1.4"/>
<text x="472.1" y="282.5" font-family='"Liberation Sans", Arial, Helvetica, sans-serif' font-size="9.5">98</text>
<line x1="464.6" y1="289.3" x2="468.7" y2="289.3" stroke="#000" stroke-width="1.4"/>
<line x1="464.6" y1="299.5" x2="468.7" y2="299.5" stroke="#000" stroke-width="1.4"/>
<line x1="464.6" y1="309.7" x2="468.7" y2="309.7" stroke="#000" stroke-width="1.4"/>
<line x1="461.1" y1="319.9" x2="468.7" y2="319.9" stroke="#000" stroke-width="1.4"/>
<text x="472.1" y="323.3" font-family='"Liberation Sans", Arial, Helvetica, sans-serif' font-size="9.5">97</text>
<line x1="464.6" y1="330.1" x2="468.7" y2="330.1" stroke="#000" stroke-width="1.4"/>
<line x1="464.6" y1="340.3" x2="468.7" y2="340.3" stroke="#000" stroke-width="1.4"/>
<line x1="464.6" y1="350.5" x2="468.7" y2="350.5" stroke="#000" stroke-width="1.4"/>
<line x1="461.1" y1="360.7" x2="468.7" y2="360.7" stroke="#000" stroke-width="1.4"/>
<text x="472.1" y="364.1" font-family='"Liberation Sans", Arial, Helvetica, sans-serif' font-size="9.5">96</text>
<line x1="464.6" y1="370.9" x2="468.7" y2="370.9" stroke="#000" stroke-width="1.4"/>
<line x1="464.6" y1="381.1" x2="468.7" y2="381.1" stroke="#000" stroke-width="1.4"/>
<line x1="464.6" y1="391.3" x2="468.7" y2="391.3" stroke="#000" stroke-width="1.4"/>
<line x1="461.1" y1="401.5" x2="468.7" y2="401.5" stroke="#000" stroke-width="1.4"/>
<text x="472.1" y="404.9" font-family='"Liberation Sans", Arial, Helvetica, sans-serif' font-size="9.5">95</text>
<line x1="464.6" y1="411.7" x2="468.7" y2="411.7" stroke="#000" stroke-width="1.4"/>
<line x1="464.6" y1="421.9" x2="468.7" y2="421.9" stroke="#000" stroke-width="1.4"/>
<line x1="464.6" y1="432.1" x2="468.7" y2="432.1" stroke="#000" stroke-width="1.4"/>
<text transform="translate(492 288.5) rotate(90)" font-family='"Liberation Sans", Arial, Helvetica, sans-serif' font-size="9.6" font-weight="bold" class="b">Prediction Accuracy %</text>
</svg>
</body></html>
